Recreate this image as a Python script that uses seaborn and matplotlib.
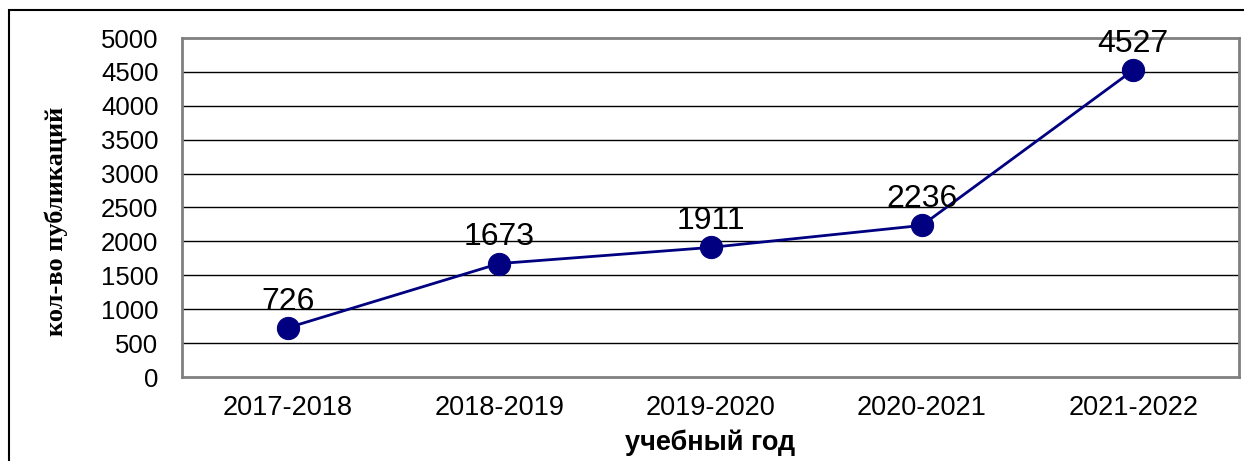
import pandas as pd
import seaborn as sns
import matplotlib.pyplot as plt
from matplotlib.patches import Rectangle
from matplotlib.ticker import FixedLocator, NullFormatter

# ---------------- Data ---------------- #
years = ["2017-2018", "2018-2019", "2019-2020", "2020-2021", "2021-2022"]
publications = [726, 1673, 1911, 2236, 4527]
y_ticks = [0, 500, 1000, 1500, 2000, 2500, 3000, 3500, 4000, 4500, 5000]

df = pd.DataFrame({"pos": range(len(years)), "year": years, "count": publications})

# ---------------- Style ---------------- #
sns.set_style("white")
plt.rcParams["font.family"] = ["Liberation Sans", "DejaVu Sans"]
plt.rcParams["text.color"] = "black"
plt.rcParams["axes.labelcolor"] = "black"
plt.rcParams["xtick.labelcolor"] = "black"
plt.rcParams["ytick.labelcolor"] = "black"

fig = plt.figure(figsize=(12.44, 4.61), dpi=100)
ax = fig.add_axes([182 / 1244, 1 - 377 / 461, (1239 - 182) / 1244, (377 - 38) / 461])

# outer chart frame
fig.patches.append(Rectangle((9 / 1244, -0.2), 1.2, 1.2 - 10 / 461,
                             transform=fig.transFigure, fill=False,
                             edgecolor="black", linewidth=1.5))

# gridlines
for v in y_ticks[1:-1]:
    ax.axhline(v, color="black", linewidth=1.0, zorder=0)

sns.lineplot(data=df, x="pos", y="count", ax=ax, color="#000080",
             linewidth=2, marker="o", markersize=16,
             markerfacecolor="#000080", markeredgecolor="#000080", zorder=3)

for x, v in zip(df["pos"], df["count"]):
    ax.annotate(str(v), (x, v), xytext=(0, 8), textcoords="offset points",
                ha="center", va="bottom", fontsize=23, color="black")

ax.set_xlim(-0.5, len(years) - 0.5)
ax.set_ylim(0, 5000)
ax.set_yticks(y_ticks)
ax.set_yticklabels([str(t) for t in y_ticks], fontsize=18.5)
ax.set_xticks(df["pos"])
ax.set_xticklabels(years, fontsize=19.5)
ax.xaxis.set_minor_locator(FixedLocator([i - 0.5 for i in range(len(years) + 1)]))
ax.xaxis.set_minor_formatter(NullFormatter())
ax.tick_params(axis="x", which="major", length=0, pad=13)
ax.tick_params(axis="x", which="minor", length=7, width=1.2, color="#808080", direction="out")
ax.tick_params(axis="y", length=8, width=1.2, color="#808080", direction="out", pad=9)

for s in ax.spines.values():
    s.set_color("#808080")
    s.set_linewidth(2)

ax.set_xlabel("учебный год", fontsize=19.5, fontweight="bold", labelpad=6)
ax.set_ylabel("кол-во публикаций", fontsize=19, fontweight="bold",
              family=["Liberation Serif", "DejaVu Serif"])
ax.yaxis.set_label_coords(-0.108, 0.46)

fig.savefig("out.png", dpi=100)
